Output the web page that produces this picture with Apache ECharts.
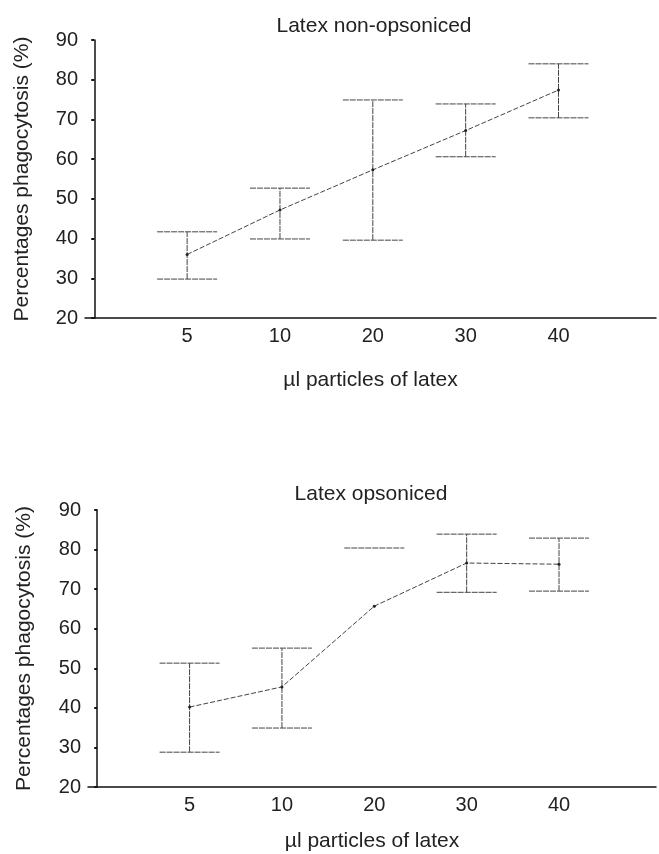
<!DOCTYPE html>
<html>
<head>
<meta charset="utf-8">
<script src="https://cdn.jsdelivr.net/npm/echarts@6/dist/echarts.min.js"></script>
<style>
  html, body { margin: 0; padding: 0; background: #fff; }
  #chart { width: 659px; height: 854px; }
</style>
</head>
<body>
<div id="chart"></div>
<script>
// doses on the x axis (µl particles of latex)
var doses = ['5', '10', '20', '30', '40'];

// Latex non-opsoniced
var nonOpsMean = [36, 47.2, 57.3, 67.2, 77.4];
var nonOpsLow = [29.8, 39.9, 39.6, 60.6, 70.4];
var nonOpsHigh = [41.7, 52.7, 74.9, 73.9, 84];

// Latex opsoniced
var opsMean = [40.2, 45.3, 65.7, 76.6, 76.3];
var opsLow = [28.8, 34.9, null, 69.2, 69.5];
var opsHigh = [51.3, 55.1, 80.4, 83.9, 82.9];

var FONT = '"Liberation Sans", Arial, sans-serif';
var INK = '#222';

function points(means) {
  return means.map(function (v, i) { return [i + 1, v]; });
}

function errorRender(lows, highs) {
  return function (params, api) {
    var i = params.dataIndex;
    var lo = lows[i], hi = highs[i];
    var half = 30;
    var style = { stroke: '#444', lineWidth: 1, lineDash: [6, 1] };
    var kids = [];
    var x = api.coord([i + 1, 0])[0];
    if (lo != null && hi != null) {
      var p1 = api.coord([i + 1, lo]), p2 = api.coord([i + 1, hi]);
      kids.push({ type: 'line', shape: { x1: x, y1: p1[1], x2: x, y2: p2[1] }, style: style });
    }
    [lo, hi].forEach(function (v) {
      if (v == null) return;
      var p = api.coord([i + 1, v]);
      kids.push({ type: 'line', shape: { x1: x - half, y1: p[1], x2: x + half, y2: p[1] }, style: style });
    });
    return { type: 'group', children: kids };
  };
}

function xAxisFor(gridIndex, gap) {
  return {
    gridIndex: gridIndex,
    type: 'value',
    min: -0.1,
    max: 6.05,
    name: 'µl particles of latex',
    nameLocation: 'middle',
    nameGap: gap,
    nameTextStyle: { fontFamily: FONT, fontSize: 21, color: INK },
    axisLine: { lineStyle: { color: '#111', width: 1.5 } },
    axisTick: { show: false },
    splitLine: { show: false },
    axisLabel: {
      fontFamily: FONT, fontSize: 20, color: INK, margin: 8,
      formatter: function (v) {
        var k = Math.round(v);
        if (Math.abs(v - k) > 1e-6 || k < 1 || k > doses.length) return '';
        return doses[k - 1];
      }
    }
  };
}

function yAxisFor(gridIndex, gap) {
  return {
    gridIndex: gridIndex,
    type: 'value',
    min: 20,
    max: 90,
    interval: 10,
    name: 'Percentages phagocytosis (%)',
    nameLocation: 'middle',
    nameGap: gap,
    nameTextStyle: { fontFamily: FONT, fontSize: 21, color: INK },
    axisLine: { show: true, lineStyle: { color: '#111', width: 1.5 } },
    axisTick: { show: true, length: 3, lineStyle: { color: '#111', width: 2 } },
    splitLine: { show: false },
    axisLabel: { fontFamily: FONT, fontSize: 20, color: INK, margin: 7 }
  };
}

var chart = echarts.init(document.getElementById('chart'));
var option = {
  backgroundColor: '#fff',
  animation: false,
  title: [
    { text: 'Latex non-opsoniced', left: 369, top: 11, textAlign: 'center',
      textStyle: { fontFamily: FONT, fontSize: 21, fontWeight: 'normal', color: INK } },
    { text: 'Latex opsoniced', left: 366, top: 479, textAlign: 'center',
      textStyle: { fontFamily: FONT, fontSize: 21, fontWeight: 'normal', color: INK } }
  ],
  grid: [
    { left: 85, right: 0, top: 40, height: 278 },
    { left: 88, right: 0, top: 510, height: 277 }
  ],
  xAxis: [xAxisFor(0, 52), xAxisFor(1, 44)],
  yAxis: [yAxisFor(0, 52), yAxisFor(1, 53)],
  series: [
    {
      type: 'custom', xAxisIndex: 0, yAxisIndex: 0,
      renderItem: errorRender(nonOpsLow, nonOpsHigh),
      data: points(nonOpsMean), silent: true
    },
    {
      type: 'line', xAxisIndex: 0, yAxisIndex: 0,
      data: points(nonOpsMean),
      symbol: 'circle', symbolSize: 3,
      itemStyle: { color: '#222' },
      lineStyle: { color: '#444', width: 1, type: [5, 2] }
    },
    {
      type: 'custom', xAxisIndex: 1, yAxisIndex: 1,
      renderItem: errorRender(opsLow, opsHigh),
      data: points(opsMean), silent: true
    },
    {
      type: 'line', xAxisIndex: 1, yAxisIndex: 1,
      data: points(opsMean),
      symbol: 'circle', symbolSize: 3,
      itemStyle: { color: '#222' },
      lineStyle: { color: '#444', width: 1, type: [5, 2] }
    }
  ]
};
chart.setOption(option);
</script>
</body>
</html>
